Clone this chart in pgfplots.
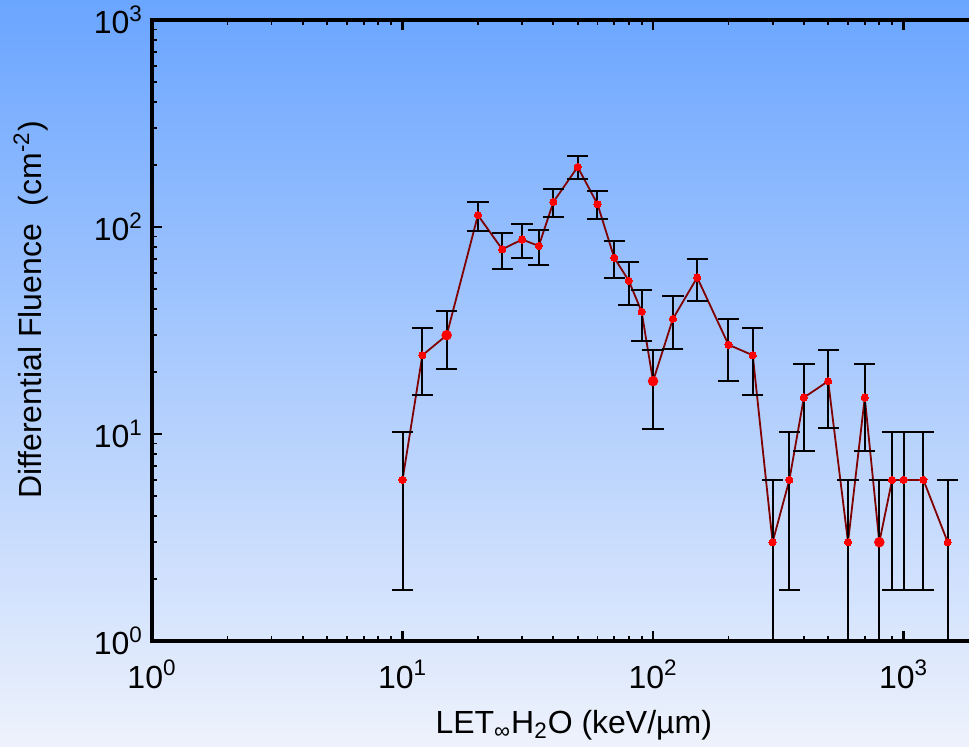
\documentclass[border=0pt]{standalone}
\usepackage{fontspec}
\setmainfont{Liberation Sans}
\usepackage{pgfplots}
\pgfplotsset{compat=1.18}
\definecolor{bgtop}{RGB}{106,165,255}
\definecolor{bgbot}{RGB}{238,242,252}
\definecolor{linered}{RGB}{128,0,0}
\begin{document}
\begin{tikzpicture}
\useasboundingbox (0,0) rectangle (484.5pt,373.5pt);
\fill[top color=bgtop, bottom color=bgbot] (0,0) rectangle (484.5pt,373.5pt);
\begin{scope}
\clip (0,0) rectangle (484.5pt,373.5pt);
\begin{axis}[
  at={(76pt,53pt)}, anchor=south west,
  scale only axis, width=413.5pt, height=310.5pt,
  xmode=log, ymode=log,
  xmin=1, xmax=2000, ymin=1, ymax=1000,
  axis line style={line width=1.6pt},
  tick align=inside,
  major tick length=5pt, minor tick length=2.6pt,
  major tick style={line width=1.3pt, black},
  minor tick style={line width=0.9pt, black},
  xtick={1,10,100,1000},
  xticklabels={10\textsuperscript{0},10\textsuperscript{1},10\textsuperscript{2},10\textsuperscript{3}},
  ytick={1,10,100,1000},
  yticklabels={10\textsuperscript{0},10\textsuperscript{1},10\textsuperscript{2},10\textsuperscript{3}},
  ticklabel style={font=\fontsize{16}{19}\selectfont},
  xticklabel style={yshift=-6pt},
  yticklabel style={xshift=-1pt},
  label style={font=\fontsize{16}{19}\selectfont},
  xlabel={LET\textsubscript{∞}H\textsubscript{2}O (keV/µm)},
  xlabel style={at={(axis description cs:0.51,0)}, anchor=center, yshift=-42pt},
  ylabel={Differential Fluence\ \ (cm\textsuperscript{-2})},
  ylabel style={at={(axis description cs:0,0.533)}, anchor=center, rotate=0, yshift=60.5pt},
  axis background/.style={fill=none},
]
\addplot[linered, line width=0.9pt, mark=*, mark size=1.8pt,
  mark options={red, draw=red, fill=red, line width=0pt},
  error bars/.cd, y dir=both, y explicit,
  error bar style={black, line width=1pt},
  error mark options={black, line width=1pt, mark size=5.3pt, rotate=90}]
coordinates {
(10,6) +- (0,4.24)
(12,24) +- (0,8.5)
(15,30) +- (0,9.5)
(20,114) +- (0,18.5)
(25,78) +- (0,15.3)
(30,87) +- (0,16.2)
(35,81) +- (0,15.6)
(40,132) +- (0,19.9)
(50,195) +- (0,24.2)
(60,129) +- (0,19.7)
(70,71) +- (0,14.6)
(80,55) +- (0,12.8)
(90,39) +- (0,10.8)
(100,18) +- (0,7.4)
(120,36) +- (0,10.4)
(150,57) +- (0,13.1)
(200,27) +- (0,9.0)
(250,24) +- (0,8.5)
(300,3) += (0,3) -= (0,2.99)
(350,6) +- (0,4.24)
(400,15) +- (0,6.7)
(500,18) +- (0,7.35)
(600,3) += (0,3) -= (0,2.99)
(700,15) +- (0,6.7)
(800,3) += (0,3) -= (0,2.99)
(900,6) +- (0,4.24)
(1000,6) +- (0,4.24)
(1200,6) +- (0,4.24)
(1500,3) += (0,3) -= (0,2.99)
};
\addplot[only marks, mark=*, mark size=2.4pt, red, mark options={draw=red, fill=red}]
coordinates {(15,30) (100,18) (800,3)};
\end{axis}
\end{scope}
\end{tikzpicture}
\end{document}
